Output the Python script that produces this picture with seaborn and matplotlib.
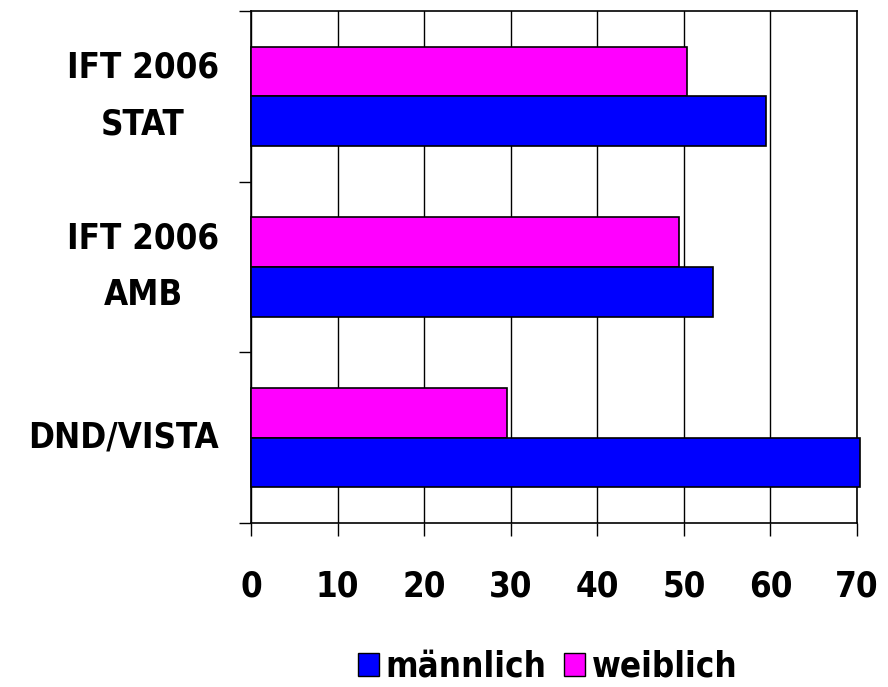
import pandas as pd
import matplotlib
matplotlib.use("Agg")
import matplotlib.pyplot as plt
import seaborn as sns
from matplotlib.patches import Patch

# Daten
categories = ["IFT 2006\nSTAT", "IFT 2006\nAMB", "DND/VISTA"]
maennlich = [59.5, 53.4, 70.3]
weiblich = [50.4, 49.4, 29.6]
series_names = ["männlich", "weiblich"]
colors = {"männlich": "#0000FF", "weiblich": "#FF00FF"}
x_ticks = [0, 10, 20, 30, 40, 50, 60, 70]

df = pd.DataFrame({
    "kategorie": categories * 2,
    "wert": maennlich + weiblich,
    "geschlecht": ["männlich"] * 3 + ["weiblich"] * 3,
})

sns.set_style("white")
plt.rcParams["font.family"] = ["DejaVu Sans"]
plt.rcParams["text.color"] = "black"
plt.rcParams["xtick.color"] = "black"
plt.rcParams["ytick.color"] = "black"
font = dict(family="DejaVu Sans", weight="bold", stretch="condensed",
            size=25, color="black")

fig = plt.figure(figsize=(8.88, 6.87), dpi=100)
ax = fig.add_axes([0.2827, 0.2383, 0.9651 - 0.2827, 0.9844 - 0.2383])

# weiblich oben, männlich unten in jeder Gruppe
sns.barplot(data=df, y="kategorie", x="wert", hue="geschlecht",
            order=categories, hue_order=["weiblich", "männlich"],
            palette=colors, saturation=1, orient="h", width=0.58, dodge=True,
            edgecolor="black", linewidth=1.2, ax=ax, legend=False, zorder=3)
for p in ax.patches:
    p.set_clip_on(False)

ax.set_xlim(0, 70)
ax.set_ylim(2.5, -0.5)
ax.set_xticks(x_ticks)
ax.set_xticklabels([str(t) for t in x_ticks], fontdict=font)
ax.set_yticks(range(len(categories)))
ax.set_yticklabels(categories, fontdict=font, multialignment="center",
                   linespacing=1.85, va="center")
ax.set_yticks([-0.5, 0.5, 1.5, 2.5], minor=True)
ax.tick_params(axis="y", which="major", left=True, length=0, pad=23)
ax.tick_params(axis="y", which="minor", left=True, length=9, width=1.0,
               color="black", direction="out")
ax.tick_params(axis="x", which="major", bottom=True, length=9.5, width=1.0,
               color="black", direction="out", pad=24)
ax.set_xlabel("")
ax.set_ylabel("")

ax.grid(axis="x", color="black", linewidth=1.0, zorder=0)
ax.set_axisbelow(True)
for s in ax.spines.values():
    s.set_visible(True)
    s.set_color("black")
    s.set_linewidth(1.2)

handles = [Patch(facecolor=colors[n], edgecolor="black", linewidth=1.0)
           for n in series_names]
fig.legend(handles, series_names, loc="center", bbox_to_anchor=(0.617, 0.03),
           ncol=2, frameon=False, prop=dict(family="DejaVu Sans", weight="bold",
                                            stretch="condensed", size=25),
           handlelength=0.6, handleheight=0.65, handletextpad=0.2,
           columnspacing=0.5)

fig.savefig("out.png", dpi=100)
